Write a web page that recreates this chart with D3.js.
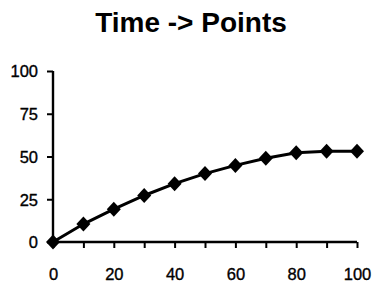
<!DOCTYPE html>
<html>
<head>
<meta charset="utf-8">
<script src="https://cdn.jsdelivr.net/npm/d3@7"></script>
<style>
html,body{margin:0;padding:0;background:#fff;}
svg{display:block;}
</style>
</head>
<body>
<svg id="chart" width="377" height="287"></svg>
<script>
const title = "Time -> Points";
const timeValues = [0, 10, 20, 30, 40, 50, 60, 70, 80, 90, 100];
const pointValues = [0, 10.5, 19.2, 27.2, 34.1, 40, 44.8, 49, 52.2, 53.1, 53.1];
const xTicks = [0, 10, 20, 30, 40, 50, 60, 70, 80, 90, 100];
const xTickLabels = ["0", "", "20", "", "40", "", "60", "", "80", "", "100"];
const yTicks = [0, 25, 50, 75, 100];

const svg = d3.select("#chart");
const font = "'Liberation Sans', Arial, Helvetica, sans-serif";

const x = d3.scaleLinear().domain([0, 100]).range([53, 357]);
const y = d3.scaleLinear().domain([0, 100]).range([242, 71]);

svg.append("text")
  .attr("x", 191).attr("y", 32)
  .attr("text-anchor", "middle")
  .attr("font-family", font)
  .attr("font-weight", "bold")
  .attr("font-size", 28)
  .text(title);

const xAxis = svg.append("g")
  .attr("transform", `translate(0,${y(0)})`)
  .call(d3.axisBottom(x).tickValues(xTicks).tickSize(6).tickPadding(20)
    .tickFormat((d, i) => xTickLabels[i]));
const yAxis = svg.append("g")
  .attr("transform", `translate(${x(0)},0)`)
  .call(d3.axisLeft(y).tickValues(yTicks).tickSize(6).tickPadding(9));

[xAxis, yAxis].forEach(a => {
  a.select(".domain").attr("stroke", "#000").attr("stroke-width", 2.4);
  a.selectAll(".tick line").attr("stroke", "#000").attr("stroke-width", 2);
  a.selectAll(".tick text").attr("font-family", font).attr("font-size", 16.5)
    .attr("fill", "#000").attr("stroke", "#000").attr("stroke-width", 0.35);
});
xAxis.select(".domain").attr("d", `M${x(0)},0H${x(100)}`);
yAxis.select(".domain").attr("d", `M0,${y(100)}V${y(0)}`);
yAxis.selectAll(".tick text").attr("dy", "0.36em");

const data = timeValues.map((t, i) => ({t, v: pointValues[i]}));
svg.append("path")
  .datum(data)
  .attr("fill", "none")
  .attr("stroke", "#000")
  .attr("stroke-width", 3)
  .attr("d", d3.line().x(d => x(d.t)).y(d => y(d.v)));

svg.selectAll("path.marker")
  .data(data)
  .enter().append("path")
  .attr("class", "marker")
  .attr("transform", d => `translate(${x(d.t)},${y(d.v)})`)
  .attr("d", "M0,-7.5L7,0L0,7.5L-7,0Z")
  .attr("fill", "#000");
</script>
</body>
</html>
